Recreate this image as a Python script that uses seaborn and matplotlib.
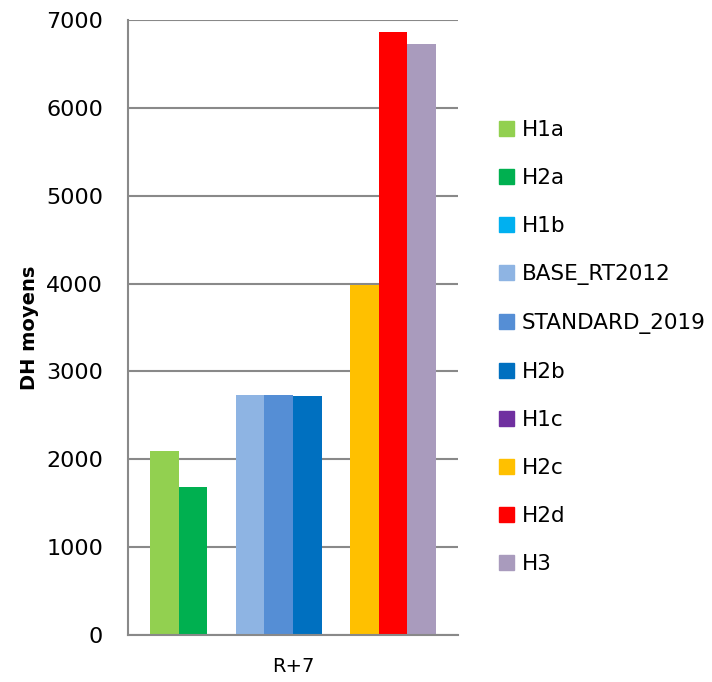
import pandas as pd
import numpy as np
import matplotlib
matplotlib.use("Agg")
import matplotlib.pyplot as plt
import seaborn as sns

# -------------------------------------------------------
# Data
# -------------------------------------------------------
category = ["R+7"]
series = ["H1a", "H2a", "H1b", "BASE_RT2012", "STANDARD_2019",
          "H2b", "H1c", "H2c", "H2d", "H3"]
values = [2100, 1690, 0, 2730, 2730, 2715, 0, 3985, 6860, 6725]
colors = ["#92D050", "#00B050", "#00B0F0", "#8EB4E3", "#558ED5",
          "#0070C0", "#7030A0", "#FFC000", "#FF0000", "#A99BBD"]
yticks = [0, 1000, 2000, 3000, 4000, 5000, 6000, 7000]

df = pd.DataFrame({
    "periode": category * len(series),
    "serie": series,
    "dh": values,
})

sns.set_theme(style="white")
plt.rcParams["font.family"] = ["DejaVu Sans"]
plt.rcParams["text.color"] = "black"
plt.rcParams["axes.labelcolor"] = "black"

fig = plt.figure(figsize=(7.12, 6.82), dpi=100)
ax = fig.add_axes([0.1798, 0.0689, 0.4635, 0.9018])

palette = dict(zip(series, colors))
sns.barplot(
    data=df,
    x="periode",
    y="dh",
    hue="serie",
    hue_order=series,
    palette=palette,
    width=0.867,
    saturation=1,
    linewidth=0,
    legend=False,
    ax=ax,
)

grid_color = "#898989"
ax.set_ylim(0, 7000)
ax.set_xlim(-0.5, 0.5)
ax.set_yticks(yticks)
ax.yaxis.grid(True, color=grid_color, linewidth=1.5)
ax.set_axisbelow(True)
for side in ["top", "right"]:
    ax.spines[side].set_visible(False)
for side in ["left", "bottom"]:
    ax.spines[side].set_color(grid_color)
    ax.spines[side].set_linewidth(1.5)
ax.tick_params(axis="both", length=0, colors="black")
ax.tick_params(axis="y", pad=18, labelsize=16)
ax.tick_params(axis="x", pad=16, labelsize=14)
ax.set_xlabel("")
ax.set_ylabel("DH moyens", fontsize=14, fontweight="bold", labelpad=5)

# ---- Legend (right side) ----
handles = [plt.Rectangle((0, 0), 1, 1, color=c) for c in colors]
fig.legend(
    handles,
    series,
    loc="upper left",
    bbox_to_anchor=(0.674, 0.852),
    frameon=False,
    fontsize=15.5,
    handlelength=0.7,
    handleheight=0.7,
    handletextpad=0.35,
    labelspacing=1.3,
)

fig.savefig("out.png", dpi=100)
